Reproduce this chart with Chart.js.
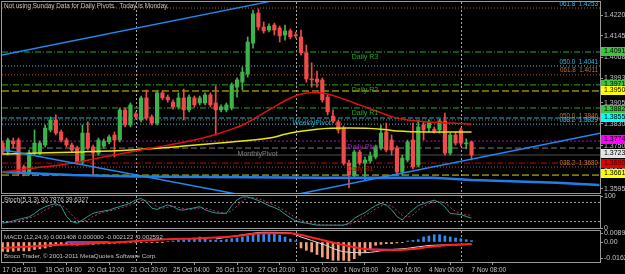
<!DOCTYPE html>
<html>
<head>
<meta charset="utf-8">
<script src="https://cdn.jsdelivr.net/npm/chart.js@4.4.0/dist/chart.umd.min.js"></script>
<style>
  html, body { margin: 0; padding: 0; background: #000; }
  #wrap { position: relative; width: 625px; height: 274px; background: #000; overflow: hidden; }
  canvas { position: absolute; left: 0; }
</style>
</head>
<body>
<div id="wrap">
  <canvas id="main" width="625" height="195" style="top:0px"></canvas>
  <canvas id="stoch" width="625" height="44" style="top:189px"></canvas>
  <canvas id="macd" width="625" height="48" style="top:226px"></canvas>
</div>
<script>
// ---- time axis ----
const timeLabels = ['17 Oct 2011', '19 Oct 04:00', '20 Oct 12:00', '21 Oct 20:00', '25 Oct 04:00', '26 Oct 12:00',
  '27 Oct 20:00', '31 Oct 00:00', '1 Nov 08:00', '2 Nov 16:00', '4 Nov 00:00', '7 Nov 08:00'];
const timeTickIdx = [0, 8, 16, 24, 32, 40, 48, 56, 64, 72, 80, 88];
const separatorIdx = [25, 55, 86];

// ---- candles (H4) ----
const open = [1.3760,1.3728,1.3767,1.3771,1.3674,1.3652,1.3724,1.3724,1.3753,1.3807,
  1.3843,1.3800,1.3771,1.3753,1.3742,1.3692,1.3796,1.3746,1.3724,1.3749,
  1.3764,1.3789,1.3771,1.3879,1.3825,1.3865,1.3843,1.3922,1.3854,1.3832,
  1.3940,1.3925,1.3907,1.3890,1.3922,1.3879,1.3922,1.3904,1.3904,1.3933,
  1.3904,1.3879,1.3879,1.3886,1.3961,1.3979,1.4008,1.4119,1.4227,1.4177,
  1.4166,1.4184,1.4173,1.4148,1.4163,1.4148,1.4141,1.4084,1.3990,1.3990,
  1.3987,1.3925,1.3857,1.3836,1.3814,1.3688,1.3645,1.3728,1.3688,1.3696,
  1.3710,1.3742,1.3800,1.3771,1.3742,1.3656,1.3699,1.3771,1.3681,1.3825,
  1.3814,1.3810,1.3807,1.3839,1.3724,1.3789,1.3807,1.3757,1.3764];
const high = [1.3767,1.3778,1.3778,1.3778,1.3681,1.3735,1.3807,1.3767,1.3825,1.3854,
  1.3861,1.3807,1.3778,1.3760,1.3749,1.3825,1.3836,1.3753,1.3778,1.3775,
  1.3789,1.3800,1.3886,1.3886,1.3904,1.3872,1.3929,1.3951,1.3861,1.3947,
  1.3947,1.3933,1.3915,1.3940,1.3954,1.3933,1.3929,1.3929,1.3940,1.3940,
  1.3965,1.3897,1.3904,1.3976,1.3994,1.4033,1.4141,1.4238,1.4242,1.4195,
  1.4188,1.4191,1.4180,1.4184,1.4170,1.4159,1.4166,1.4112,1.4048,1.4019,
  1.3994,1.3933,1.3879,1.3843,1.3821,1.3699,1.3735,1.3735,1.3710,1.3728,
  1.3753,1.3825,1.3832,1.3789,1.3749,1.3717,1.3771,1.3832,1.3843,1.3836,
  1.3843,1.3818,1.3846,1.3868,1.3796,1.3800,1.3814,1.3775,1.3767];
const low = [1.3721,1.3717,1.3742,1.3645,1.3642,1.3645,1.3717,1.3717,1.3746,1.3800,
  1.3789,1.3764,1.3746,1.3728,1.3685,1.3685,1.3735,1.3645,1.3717,1.3742,
  1.3757,1.3710,1.3764,1.3818,1.3818,1.3846,1.3836,1.3843,1.3825,1.3825,
  1.3915,1.3907,1.3882,1.3882,1.3843,1.3872,1.3890,1.3897,1.3897,1.3890,
  1.3789,1.3872,1.3872,1.3879,1.3925,1.3951,1.3997,1.4101,1.4166,1.4155,
  1.4159,1.4148,1.4123,1.4130,1.4134,1.4137,1.4076,1.3979,1.3961,1.3961,
  1.3907,1.3861,1.3832,1.3796,1.3681,1.3599,1.3635,1.3681,1.3627,1.3688,
  1.3703,1.3735,1.3728,1.3717,1.3649,1.3645,1.3692,1.3667,1.3674,1.3771,
  1.3800,1.3796,1.3796,1.3717,1.3717,1.3753,1.3749,1.3739,1.3699];
const close = [1.3728,1.3771,1.3757,1.3656,1.3652,1.3724,1.3760,1.3760,1.3814,1.3843,
  1.3796,1.3771,1.3753,1.3735,1.3692,1.3796,1.3742,1.3724,1.3771,1.3767,
  1.3782,1.3771,1.3879,1.3825,1.3897,1.3854,1.3922,1.3850,1.3832,1.3940,
  1.3922,1.3915,1.3890,1.3922,1.3879,1.3925,1.3897,1.3922,1.3933,1.3897,
  1.3879,1.3890,1.3897,1.3969,1.3987,1.4015,1.4123,1.4224,1.4177,1.4163,
  1.4180,1.4166,1.4145,1.4163,1.4141,1.4145,1.4084,1.3990,1.3987,1.3979,
  1.3915,1.3872,1.3839,1.3807,1.3688,1.3645,1.3728,1.3688,1.3699,1.3714,
  1.3746,1.3796,1.3735,1.3735,1.3656,1.3706,1.3764,1.3674,1.3818,1.3807,
  1.3832,1.3803,1.3839,1.3724,1.3789,1.3760,1.3760,1.3760,1.3717];

// ---- moving averages and trend lines ----
const maRedIdx = [0,6,12,18,24,30,36,40,43,45,48,51,54,57,59,61,64,67,70,73,76,80,84,88];
const maRed = [1.3656,1.3670,1.3685,1.3706,1.3728,1.3749,1.3771,1.3791,1.3810,1.3825,1.3857,1.3890,
  1.3922,1.3940,1.3942,1.3936,1.3918,1.3897,1.3876,1.3855,1.3843,1.3836,1.3832,1.3828];
const maYelIdx = [0,7,15,24,34,43,50,54,59,65,71,74,80,88];
const maYel = [1.3721,1.3724,1.3728,1.3735,1.3749,1.3764,1.3778,1.3796,1.3810,1.3814,1.3810,1.3803,1.3800,1.3800];
const maBlueIdx = [0,13,25,60,81,88,104,112];
const maBlue = [1.3656,1.3645,1.3640,1.3635,1.3635,1.3627,1.3617,1.3609];
const trendAIdx = [-0.1, 50], trendA = [1.4076, 1.4268];
const trendBIdx = [-0.1, 45], trendB = [1.3737, 1.3573];
const trendCIdx = [55.8, 112.1], trendC = [1.3578, 1.3795];

// ---- horizontal levels ----
const levelPrices = [1.4245,1.4087,1.4037,1.4005,1.3969,1.3947,1.3886,1.3850,1.3843,1.3828,1.3767,1.3742,1.3717,1.3688,1.3674,1.3645];
const levelKinds = ['fibO','pivG','fibC','fibO','pivG','yel','pivG','weekly','fibO','fibC','dpivot','monthly','bid','s1','fibO','yel'];

const pivotNames = ['Daily R3','Daily R2','Daily R1','WeeklyPivot','MonthlyPivot','Daily Pivot','Daily S1'];
const pivotNamePrices = [1.4087,1.3969,1.3886,1.3850,1.3742,1.3767,1.3688];
const pivotNameIdx = [65.5,65.5,65.5,54.4,44.1,64.7,64.7];
const pivotNameKinds = ['pivG','pivG','pivG','weekly','monthly','dpivot','s1'];

const fibTexts = ['061.8  1.4253','050.0  1.4041','061.8  1.4011','050.0  1.3846','038.2  1.3829','038.2  1.3680'];
const fibTextPrices = [1.4245,1.4037,1.4005,1.3843,1.3828,1.3674];
const fibTextKinds = ['fibC','fibC','fibO','fibO','fibC','fibO'];

const priceTicks = [1.4220,1.4145,1.4068,1.3993,1.3905,1.3830,1.3750,1.3675,1.3595];
const boxPrices = [1.4091,1.3971,1.3950,1.3882,1.3855,1.3774,1.3723,1.3690,1.3651];
const boxTexts = ['1.4091','1.3971','1.3950','1.3882','1.3855','1.3774','1.3723','1.3690','1.3661'];
const boxKinds = ['pivG','pivG','yel','pivG','weekly','dpivot','bid','s1','yel'];

// ---- stochastic ----
const stochK = [15,18,22,27,31,35,45,58,66,72, 76,68,36,20,15,25,36,46,50,53,
  56,62,67,72,78,88,92,82,62,58, 66,72,67,57,56,60,63,67,57,51,
  47,46,46,70,88,97,97,92,86,78, 70,64,56,43,32,22,18,15,12,9,
  9,9,9,9,9,15,30,40,48,60, 70,77,72,57,36,25,42,57,70,76,
  82,87,80,66,45,44,42,36,31];
const stochD = [18,17,18,22,27,31,37,46,56,65, 71,72,60,41,24,20,25,36,44,50,
  53,57,62,67,72,79,86,87,79,67, 62,65,68,65,60,58,60,63,62,58,
  52,48,46,54,68,85,94,95,92,85, 78,71,63,54,44,32,24,18,15,12,
  10,9,9,9,9,11,18,28,39,49, 59,69,73,69,55,39,34,41,56,68,
  76,82,83,78,64,52,44,41,40];
const stochLevels = [80, 20];
const stochTicks = [100, 0];
const stochTickLabels = ['100', '0'];

// ---- MACD ----
const macdHist = [-0.0095,-0.0098,-0.0092,-0.0085,-0.0090,-0.0088,-0.0075,-0.0068,-0.0060,-0.0045,
  -0.0035,-0.0030,-0.0028,-0.0030,-0.0032,-0.0025,-0.0022,-0.0025,-0.0020,-0.0018,
  -0.0015,-0.0012,-0.0010,-0.0008,-0.0006,-0.0005,-0.0004,-0.0005,-0.0003,-0.0002,
  -0.0001,0.0005,0.0010,0.0017,0.0023,0.0030,0.0040,0.0050,0.0035,0.0020,
  0.0017,0.0017,0.0025,0.0033,0.0040,0.0050,0.0062,0.0073,0.0090,0.0090,
  0.0084,0.0077,0.0067,0.0050,0.0030,0.0012,-0.0060,-0.0083,-0.0100,-0.0125,
  -0.0150,-0.0167,-0.0183,-0.0183,-0.0183,-0.0190,-0.0167,-0.0133,-0.0100,-0.0067,
  -0.0033,-0.0023,-0.0017,-0.0017,-0.0010,-0.0007,0.0010,0.0016,0.0023,0.0050,
  0.0060,0.0073,0.0073,0.0060,0.0050,0.0040,0.0033,0.0023,0.0014];
const macdRedIdx = [0,10,20,31,37,44,49,54,56,60,64,68,74,77,80,84,88];
const macdRed = [-0.006,-0.003,-0.0005,0.0027,0.0037,0.006,0.0087,0.0087,0.007,0.002,-0.003,-0.007,-0.008,-0.007,-0.005,-0.003,-0.0021];
const macdWhiteIdx = [40,46,49,54,56,60,64,68,72,76,80,88];
const macdWhite = [0.003,0.008,0.0097,0.009,0.005,-0.002,-0.0097,-0.0107,-0.008,-0.0063,-0.0035,-0.0026];
const macdPurpleIdx = [12,20,44,69,74];
const macdPurple = [0,0,null,-0.0075,-0.0078];
const macdTicks = [0.00893, 0, -0.01623];
const macdTickLabels = ['0.00893', '0.00', '-0.01623'];

const titleText = 'Not using Sunday Data for Daily Pivots.  Today is Monday.';
const stochText = 'Stoch(5,3,3) 30.7876 39.6327';
const macdText = 'MACD (12,24,9) 0.001408 0.000000 -0.002122 -0.002592';
const copyText = 'Broco Trader, \u00A9 2001-2011 MetaQuotes Software Corp.';

// ---- styles ----
const FONT = '"Liberation Sans", Arial, sans-serif';
const AXIS_C = '#9a9a9a';
const TEXT_C = '#c4c4c4';
const UP = '#3cb44b', DOWN = '#f04a4a';
const X_MIN = -0.1, X_MAX = 112.1;
const styles = {
  fibO:    { color: '#a0642a', dash: [1, 2], text: '#b87838' },
  fibC:    { color: '#38c8e0', dash: [1, 2], text: '#38b8e0' },
  pivG:    { color: '#28a828', dash: [6, 2, 1, 2], text: '#2aa82a', box: '#3ec43e' },
  yel:     { color: '#d8d800', dash: [7, 3], box: '#ffff00' },
  weekly:  { color: '#20b0c8', dash: [5, 2], text: '#28a8d0', box: '#00ffff' },
  dpivot:  { color: '#c000c0', dash: [2, 2], text: '#a020b8', box: '#ff00ff' },
  monthly: { color: '#7a7a7a', dash: [6, 3], text: '#808080' },
  bid:     { color: '#505050', dash: [], box: '#e4e4e4' },
  s1:      { color: '#d00000', dash: [6, 2, 1, 2], text: '#c01010', box: '#e00000' }
};

const pts = (xs, ys) => xs.map((x, i) => ({ x: x, y: ys[i] }));
const seq = ys => ys.map((y, i) => ({ x: i, y: y }));

// ---- plugins ----
const frame = {
  id: 'frame',
  afterDraw(chart) {
    const { ctx, chartArea: a } = chart;
    ctx.save();
    ctx.strokeStyle = AXIS_C;
    ctx.lineWidth = 1;
    ctx.strokeRect(a.left - 0.5, a.top - 0.5, a.right - a.left + 1, a.bottom - a.top + 1);
    ctx.restore();
  }
};
const separators = {
  id: 'separators',
  beforeDatasetsDraw(chart) {
    const { ctx, chartArea: a, scales: { x } } = chart;
    ctx.save();
    ctx.strokeStyle = '#a8a8a8';
    ctx.setLineDash([2, 2]);
    ctx.lineWidth = 1;
    separatorIdx.forEach(v => {
      const px = Math.round(x.getPixelForValue(v)) + 0.5;
      ctx.beginPath(); ctx.moveTo(px, a.top); ctx.lineTo(px, a.bottom); ctx.stroke();
    });
    ctx.restore();
  }
};
const overlayText = {
  id: 'overlayText',
  afterDatasetsDraw(chart, args, opts) {
    const { ctx } = chart;
    const xs = chart.scales.x, ys = chart.scales.y;
    ctx.save();
    (opts.items || []).forEach(t => {
      ctx.font = t.size + 'px ' + FONT;
      ctx.fillStyle = t.color;
      ctx.textAlign = t.align || 'left';
      ctx.textBaseline = t.baseline || 'top';
      const px = t.px !== undefined ? t.px : (t.right ? chart.chartArea.right - 2 : xs.getPixelForValue(t.x));
      const py = t.py !== undefined ? t.py : ys.getPixelForValue(t.y) + (t.dy || 0);
      ctx.fillText(t.text, px, py);
    });
    ctx.restore();
  }
};
const priceBoxes = {
  id: 'priceBoxes',
  afterDraw(chart, args, opts) {
    const ys = chart.scales.y, { ctx } = chart;
    ctx.save();
    (opts.items || []).forEach(b => {
      const py = Math.round(ys.getPixelForValue(b.y));
      ctx.fillStyle = b.bg;
      ctx.fillRect(ys.left + 1, py - 4, 25, 9);
      ctx.fillStyle = b.fg;
      ctx.font = '7px ' + FONT;
      ctx.textBaseline = 'middle';
      ctx.textAlign = 'left';
      ctx.fillText(b.text, ys.left + 4, py + 0.5);
    });
    ctx.restore();
  }
};

const hiddenX = () => ({ type: 'linear', min: X_MIN, max: X_MAX, offset: false, display: false });
const rightAxis = (min, max, tickVals, labelFn) => ({
  position: 'right', min: min, max: max,
  afterBuildTicks: s => { s.ticks = tickVals.map(v => ({ value: v })); },
  afterFit: s => { s.width = 25; s.paddingTop = 0; s.paddingBottom = 0; },
  ticks: { color: TEXT_C, font: { family: FONT, size: 7 }, padding: 1, autoSkip: false, callback: labelFn },
  grid: { drawOnChartArea: false, drawTicks: true, tickLength: 3, color: AXIS_C },
  border: { display: true, color: AXIS_C }
});
const baseOpts = {
  responsive: false, animation: false, events: [],
  plugins: { legend: { display: false }, tooltip: { enabled: false } }
};

// ---- main price chart ----
const idx = open.map((_, i) => i);
const upColors = idx.map(i => close[i] >= open[i] ? UP : DOWN);
const levelSets = levelPrices.map((p, i) => ({
  type: 'line', data: pts([X_MIN, X_MAX], [p, p]), borderColor: styles[levelKinds[i]].color,
  borderDash: styles[levelKinds[i]].dash, borderWidth: 1, pointRadius: 0, order: 10
}));
const lineSet = (data, color, width, order, tension) => ({
  type: 'line', data: data, borderColor: color, borderWidth: width, pointRadius: 0,
  tension: tension || 0, cubicInterpolationMode: tension ? 'monotone' : 'default', order: order
});

const mainTexts = [{ text: titleText, px: 4, py: 3, size: 6.4, color: TEXT_C }]
  .concat(pivotNames.map((n, i) => ({ text: n, x: pivotNameIdx[i], y: pivotNamePrices[i], dy: 2, size: 7,
    color: styles[pivotNameKinds[i]].text })))
  .concat(fibTexts.map((n, i) => ({ text: n, right: true, align: 'right', baseline: 'bottom',
    y: fibTextPrices[i], dy: -1, size: 6.3, color: styles[fibTextKinds[i]].text })));

const boxes = boxPrices.map((p, i) => ({ y: p, text: boxTexts[i], bg: styles[boxKinds[i]].box,
  fg: boxKinds[i] === 's1' ? '#3a0000' : '#000' }));

new Chart(document.getElementById('main'), {
  type: 'bar',
  data: {
    datasets: levelSets.concat([
      { type: 'bar', data: idx.map(i => ({ x: i, y: [low[i], high[i]] })), backgroundColor: upColors,
        barThickness: 1, grouped: false, order: 6 },
      { type: 'bar', data: idx.map(i => ({ x: i, y: [open[i], close[i]] })), backgroundColor: upColors,
        barThickness: 3.5, minBarLength: 1, grouped: false, order: 5 },
      lineSet(pts(maBlueIdx, maBlue), '#1f7fe8', 2.5, 4),
      lineSet(pts(maYelIdx, maYel), '#e8e800', 1.5, 3, 0.4),
      lineSet(pts(maRedIdx, maRed), '#e01010', 1.5, 2, 0.4),
      lineSet(pts(trendAIdx, trendA), '#2088f0', 1.5, 1),
      lineSet(pts(trendBIdx, trendB), '#2088f0', 1.5, 1),
      lineSet(pts(trendCIdx, trendC), '#2088f0', 1.5, 1)
    ])
  },
  options: Object.assign({}, baseOpts, {
    layout: { padding: { left: 2, top: 2, bottom: 2, right: 0 } },
    plugins: Object.assign({}, baseOpts.plugins, { overlayText: { items: mainTexts }, priceBoxes: { items: boxes } }),
    scales: {
      x: hiddenX(),
      y: rightAxis(1.35806, 1.42667, priceTicks, v => v.toFixed(4))
    }
  }),
  plugins: [separators, frame, overlayText, priceBoxes]
});

// ---- stochastic panel ----
new Chart(document.getElementById('stoch'), {
  type: 'line',
  data: {
    datasets: stochLevels.map(l => ({
      data: pts([X_MIN, X_MAX], [l, l]), borderColor: '#a8a8a8', borderDash: [2, 2], borderWidth: 1, pointRadius: 0, order: 5
    })).concat([
      { data: seq(stochK), borderColor: '#2e9c8a', borderWidth: 1, pointRadius: 0, order: 1 },
      { data: seq(stochD), borderColor: '#c0307a', borderDash: [2, 2], borderWidth: 1, pointRadius: 0, order: 2 }
    ])
  },
  options: Object.assign({}, baseOpts, {
    layout: { padding: { left: 2, top: 7, bottom: 5, right: 0 } },
    plugins: Object.assign({}, baseOpts.plugins, {
      overlayText: { items: [{ text: stochText, px: 4, py: 8, size: 6.4, color: TEXT_C }] }
    }),
    scales: {
      x: hiddenX(),
      y: rightAxis(0, 100, stochTicks, (v, i) => stochTickLabels[i])
    }
  }),
  plugins: [separators, frame, overlayText]
});

// ---- MACD panel ----
new Chart(document.getElementById('macd'), {
  type: 'bar',
  data: {
    datasets: [
      { type: 'bar', data: seq(macdHist), backgroundColor: macdHist.map(v => v >= 0 ? '#2f8cf0' : '#f4a07a'),
        barThickness: 2, grouped: false, order: 5 },
      lineSet(pts(macdPurpleIdx, macdPurple), '#8a3aa8', 2, 3),
      lineSet(pts(macdWhiteIdx, macdWhite), '#d8d8d8', 1, 2, 0.3),
      lineSet(pts(macdRedIdx, macdRed), '#ff2020', 2, 1, 0.3)
    ]
  },
  options: Object.assign({}, baseOpts, {
    layout: { padding: { left: 2, top: 5, bottom: 0, right: 0 } },
    plugins: Object.assign({}, baseOpts.plugins, {
      overlayText: { items: [
        { text: macdText, px: 4, py: 8, size: 6.2, color: TEXT_C },
        { text: copyText, px: 4, py: 27, size: 6.2, color: TEXT_C }
      ] }
    }),
    scales: {
      x: {
        type: 'linear', min: X_MIN, max: X_MAX, offset: false, position: 'bottom',
        afterBuildTicks: s => { s.ticks = timeTickIdx.map(v => ({ value: v })); },
        afterFit: s => { s.height = 12; s.paddingLeft = 0; s.paddingRight = 0; },
        ticks: { color: TEXT_C, font: { family: FONT, size: 6.4 }, align: 'start', padding: 1,
          maxRotation: 0, autoSkip: false, callback: (v, i) => timeLabels[i] },
        grid: { drawOnChartArea: false, drawTicks: true, tickLength: 3, color: AXIS_C },
        border: { display: false }
      },
      y: rightAxis(-0.020, 0.011, macdTicks, (v, i) => macdTickLabels[i])
    }
  }),
  plugins: [separators, frame, overlayText]
});
</script>
</body>
</html>
